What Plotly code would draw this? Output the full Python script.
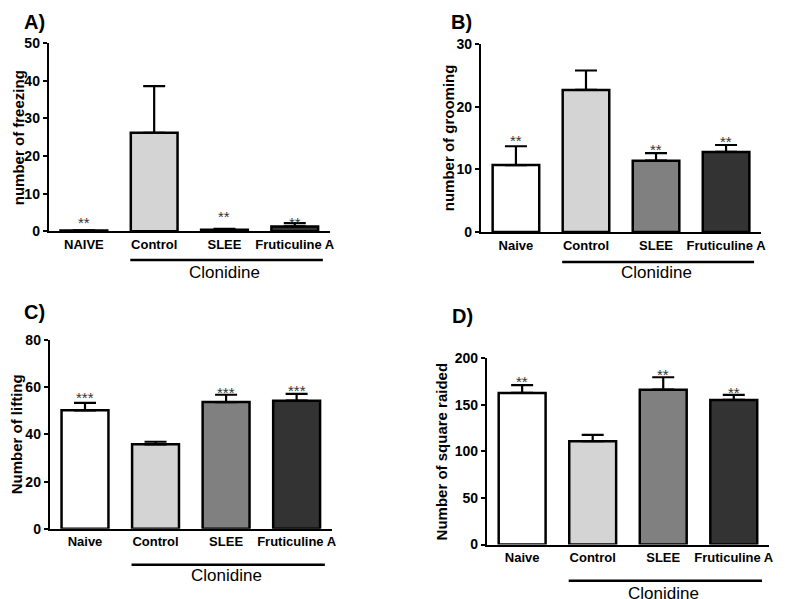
import plotly.graph_objects as go

# ---------------- data ----------------
labels_A = ["NAIVE", "Control", "SLEE", "Fruticuline A"]
labels = ["Naive", "Control", "SLEE", "Fruticuline A"]
positions = [0, 1, 2, 3]

freezing = [0.2, 26.2, 0.45, 1.3]
freezing_sem = [0.05, 12.4, 0.2, 0.9]
freezing_sig = ["**", "", "**", "**"]
freezing_sig_y = [3.3, None, 4.9, 3.5]

grooming = [10.7, 22.7, 11.4, 12.8]
grooming_sem = [3.0, 3.1, 1.2, 1.1]
grooming_sig = ["**", "", "**", "**"]
grooming_sig_y = [15.3, None, 13.9, 15.1]

lifting = [50.2, 35.8, 53.7, 54.3]
lifting_sem = [3.2, 1.1, 3.1, 2.9]
lifting_sig = ["***", "", "***", "***"]
lifting_sig_y = [57.5, None, 59.4, 60.1]

squares = [162.5, 110.8, 166.0, 155.0]
squares_sem = [8.3, 6.7, 13.3, 5.4]
squares_sig = ["**", "", "**", "**"]
squares_sig_y = [179.3, None, 186.4, 167.2]

group_label = "Clonidine"
bar_colors = ["#ffffff", "#d4d4d4", "#808080", "#333333"]

# Page geometry: default 8px body margin around the figure; the captured
# page (8 + 599 + 8 = 615 px tall) is shown at 599 px, so vertical target
# positions are converted with that ratio.
OFF = 8
W, H = 788 - 2 * OFF, 599
PAGE_H, SHOT_H = H + 2 * OFF, 599
FONT = "Arial, Liberation Sans, sans-serif"


def px(x):
    return (x - OFF) / W


def py(y):
    return 1 - (y * PAGE_H / SHOT_H - OFF) / H


panels = [
    dict(name="A)", vals=freezing, err=freezing_sem, sig=freezing_sig, sig_y=freezing_sig_y,
         ticks=labels_A, title="number of freezing", yr=[0, 50], dt=10,
         xd=[49, 332], yd=[35, 223.3], title_x=18, lab=(22, 14),
         line_y=252, text_y=264),
    dict(name="B)", vals=grooming, err=grooming_sem, sig=grooming_sig, sig_y=grooming_sig_y,
         ticks=labels, title="number of grooming", yr=[0, 30], dt=10,
         xd=[484, 766], yd=[36, 224], title_x=451, lab=(452, 14),
         line_y=254, text_y=264),
    dict(name="C)", vals=lifting, err=lifting_sem, sig=lifting_sig, sig_y=lifting_sig_y,
         ticks=labels, title="Number of lifting", yr=[0, 80], dt=20,
         xd=[50, 334], yd=[332, 521], title_x=16, lab=(22, 304),
         line_y=557, text_y=568),
    dict(name="D)", vals=squares, err=squares_sem, sig=squares_sig, sig_y=squares_sig_y,
         ticks=labels, title="Number of square raided", yr=[0, 200], dt=50,
         xd=[490, 774], yd=[350, 536.7], title_x=444, lab=(453, 308),
         line_y=573, text_y=586),
]

fig = go.Figure()
annotations = []
shapes = []

for i, p in enumerate(panels):
    n = "" if i == 0 else str(i + 1)
    xa, ya = "x" + n, "y" + n
    fig.add_trace(go.Bar(
        x=positions, y=p["vals"], width=0.665,
        marker=dict(color=bar_colors, line=dict(color="black", width=2.5)),
        error_y=dict(type="data", array=p["err"], arrayminus=[0] * 4, symmetric=False,
                     color="black", thickness=2.2, width=11),
        xaxis=xa, yaxis=ya, showlegend=False, hoverinfo="skip",
    ))
    fig.layout["xaxis" + n] = dict(
        domain=[px(p["xd"][0]), px(p["xd"][1])], anchor=ya, range=[-0.5, 3.5],
        tickmode="array", tickvals=positions, ticktext=p["ticks"],
        showline=True, linecolor="black", linewidth=2, ticks="", showgrid=False,
        zeroline=False, tickfont=dict(family=FONT, size=13, color="black", weight="bold"),
        fixedrange=True,
    )
    fig.layout["yaxis" + n] = dict(
        domain=[py(p["yd"][1]), py(p["yd"][0])], anchor=xa, range=p["yr"],
        dtick=p["dt"], tick0=0, showline=True, linecolor="black", linewidth=2,
        ticks="outside", ticklen=4, tickwidth=2, tickcolor="black", showgrid=False,
        zeroline=False, tickfont=dict(family=FONT, size=14, color="black", weight="bold"),
        fixedrange=True,
    )
    # significance stars
    for k in range(4):
        if p["sig"][k]:
            annotations.append(dict(
                x=positions[k], y=p["sig_y"][k], xref=xa, yref=ya, text=p["sig"][k],
                showarrow=False, yanchor="middle", yshift=-4,
                font=dict(family=FONT, size=15, color="#333333"),
            ))
    # y title
    annotations.append(dict(
        x=px(p["title_x"]), y=py((p["yd"][0] + p["yd"][1]) / 2), xref="paper", yref="paper",
        text=p["title"], textangle=-90, showarrow=False, xanchor="center", yanchor="middle",
        font=dict(family=FONT, size=15, color="black", weight="bold"),
    ))
    # panel letter
    annotations.append(dict(
        x=px(p["lab"][0]), y=py(p["lab"][1]), xref="paper", yref="paper", text=p["name"],
        showarrow=False, xanchor="left", yanchor="middle",
        font=dict(family=FONT, size=20, color="black", weight="bold"),
    ))
    # group line + label
    shapes.append(dict(type="line", xref=xa, yref="paper", x0=0.66, x1=3.4,
                       y0=py(p["line_y"]), y1=py(p["line_y"]),
                       line=dict(color="black", width=2.5)))
    annotations.append(dict(
        x=2.0, y=py(p["text_y"]), xref=xa, yref="paper", text=group_label,
        showarrow=False, xanchor="center", yanchor="middle",
        font=dict(family=FONT, size=17, color="black"),
    ))

fig.update_layout(
    width=W, height=H, margin=dict(l=0, r=0, t=0, b=0),
    paper_bgcolor="white", plot_bgcolor="white",
    annotations=annotations, shapes=shapes,
)

fig.write_html("out.html", config={"displayModeBar": False})
